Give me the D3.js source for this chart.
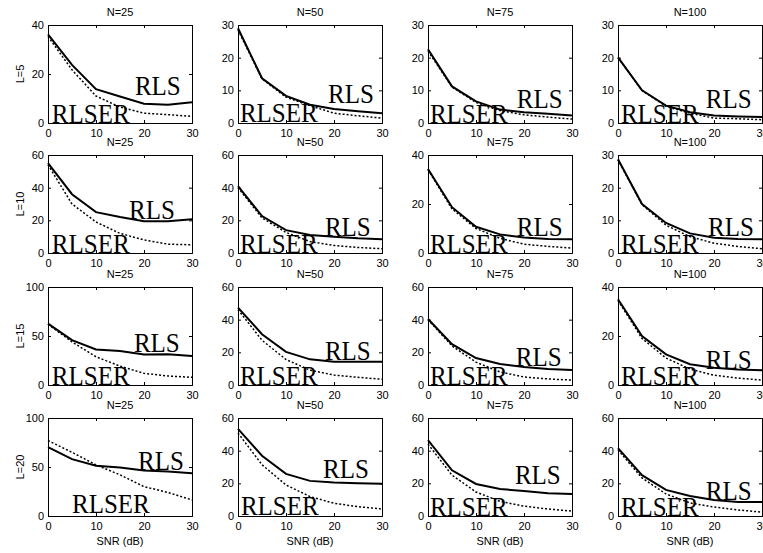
<!DOCTYPE html>
<html><head><meta charset="utf-8">
<script src="https://d3js.org/d3.v7.min.js"></script>
<style>body{margin:0;background:#fff}</style>
</head><body>
<svg id="c" width="763" height="553"></svg>
<script>
const snr = [0, 5, 10, 15, 20, 25, 30];
const Nvals = ["N=25", "N=50", "N=75", "N=100"];
const Lvals = ["L=5", "L=10", "L=15", "L=20"];

// RLS (solid) per row L, columns N=25,50,75,100
const rls_L5 = [
  [36.2, 23.7, 13.8, 10.8, 7.9, 7.5, 8.5],
  [29, 13.7, 8.3, 5.6, 4.3, 3.6, 3.0],
  [22.6, 11.2, 6.6, 4.1, 3.3, 2.8, 2.3],
  [20.1, 10, 5.3, 3.3, 2.3, 2.0, 1.8]
];
const rlser_L5 = [
  [35.3, 21.7, 11, 6.5, 4, 3.4, 2.7],
  [28.5, 13.5, 7.9, 5.3, 3, 2.2, 1.5],
  [22, 11, 6.3, 3.8, 2.5, 1.8, 1.2],
  [20, 10, 5.1, 3, 1.5, 1.3, 1.0]
];
const rls_L10 = [
  [55, 36, 25, 22, 19.4, 19.4, 20.6],
  [41, 22.6, 14, 11, 10, 9, 8.4],
  [34.3, 18.7, 10.7, 7.6, 6.3, 5.7, 5.6],
  [28.7, 15, 9.2, 6, 4.7, 4.3, 4.2]
];
const rlser_L10 = [
  [54, 30, 19, 12, 8, 5.4, 5],
  [40, 21.5, 12.6, 7, 4.6, 3.4, 2.6],
  [34, 18, 10, 6, 3.6, 2.7, 2],
  [28.5, 14.8, 8.5, 5, 3, 2, 1.3]
];
const rls_L15 = [
  [62.7, 45.8, 36.3, 34.6, 31.2, 31.5, 29.5],
  [47.4, 31.1, 20.3, 15.7, 14.2, 14.2, 14.2],
  [40.4, 25, 16.5, 12.9, 11, 9.8, 9.2],
  [35, 20, 12.5, 8.5, 7, 6.3, 6]
];
const rlser_L15 = [
  [62, 44, 28.8, 19.3, 11.9, 9.2, 7.8],
  [46.1, 27.4, 15.6, 9.1, 6.1, 4.7, 3.5],
  [40, 23.9, 14, 8, 4.9, 3.7, 3],
  [34.5, 19, 11, 6.5, 4, 2.8, 2]
];
const rls_L20 = [
  [70.3, 58, 51.2, 49.5, 46.4, 45.4, 43.7],
  [53.3, 36.9, 25.8, 21.5, 20.5, 20, 19.7],
  [46.5, 28, 19.6, 16.5, 15.3, 14, 13.5],
  [41.6, 25, 16, 12.2, 9.8, 8.6, 8.6]
];
const rlser_L20 = [
  [77, 65, 52.2, 42, 30, 24, 16.4],
  [50.8, 31.4, 19, 11.9, 7.8, 5.7, 4.3],
  [44, 25, 14.7, 9, 6, 4.3, 3],
  [40.4, 23.3, 13.5, 8, 5.5, 3.7, 2.4]
];
const rlsRows = [rls_L5, rls_L10, rls_L15, rls_L20];
const rlserRows = [rlser_L5, rlser_L10, rlser_L15, rlser_L20];

const yMax = [[40, 30, 30, 30], [60, 60, 40, 30], [100, 60, 60, 40], [100, 60, 60, 60]];
const xTicks = [0, 10, 20, 30];
const yTickStep = {30: 10, 40: 20, 60: 20, 100: 50};

// annotation anchors (data coords): RLS label and RLSER label
const rlsLabel = [
  [[18.1, 11.4], [18.75, 6.1], [18.5, 4.6], [18.3, 4.6]],
  [[16.9, 20.6], [18.1, 10.2], [18.5, 6.8], [18.75, 5.1]],
  [[17.9, 33.7], [18.1, 15.3], [18.3, 11.6], [18.3, 6.5]],
  [[18.75, 47], [17.7, 23.3], [18.1, 19.6], [18.3, 9.8]]
];
const rlserLabel = [
  [[0.8, 0], [0.4, 0.2], [0.4, 0], [0.6, 0]],
  [[0.8, 0], [0.4, 0], [0.4, 0], [0.6, 0]],
  [[0.8, 0], [0.4, 0], [0.4, 0], [0.6, 0]],
  [[5, 3.4], [0.6, 0.6], [0.4, 0], [0.6, 0]]
];

const svg = d3.select("#c");
const lefts = [48, 238, 428, 618], tops = [25, 155, 287, 418];
const pw = 144, ph = 98;
const sans = "Liberation Sans, Arial, sans-serif";
const serif = "Liberation Serif, Times New Roman, serif";

for (let r = 0; r < 4; r++) {
  for (let c = 0; c < 4; c++) {
    const g = svg.append("g").attr("transform", `translate(${lefts[c]},${tops[r]})`);
    const x = d3.scaleLinear().domain([0, 30]).range([0, pw]);
    const ym = yMax[r][c];
    const y = d3.scaleLinear().domain([0, ym]).range([ph, 0]);
    const yt = d3.range(0, ym + 0.001, yTickStep[ym]);

    g.append("g").attr("transform", `translate(0,${ph})`)
      .call(d3.axisBottom(x).tickValues(xTicks).tickSize(-3).tickPadding(6).tickFormat(d3.format("d")));
    g.append("g")
      .call(d3.axisLeft(y).tickValues(yt).tickSize(-3).tickPadding(4).tickFormat(d3.format("d")));
    g.append("g").attr("transform", `translate(${pw},0)`)
      .call(d3.axisRight(y).tickValues(yt).tickSize(-3).tickFormat(""));
    g.append("g")
      .call(d3.axisTop(x).tickValues(xTicks).tickSize(-3).tickFormat(""));
    g.selectAll(".domain").attr("stroke", "#000").attr("stroke-width", 1);
    g.selectAll(".tick line").attr("stroke", "#000");
    g.selectAll(".tick text").attr("font-family", sans).attr("font-size", 11).attr("fill", "#000");

    const line = d3.line().x((d, i) => x(snr[i])).y(d => y(d));
    g.append("path").datum(rlserRows[r][c]).attr("d", line)
      .attr("fill", "none").attr("stroke", "#000").attr("stroke-width", 1.5)
      .attr("stroke-dasharray", "2,2");
    g.append("path").datum(rlsRows[r][c]).attr("d", line)
      .attr("fill", "none").attr("stroke", "#000").attr("stroke-width", 2);

    g.append("text").attr("x", pw / 2).attr("y", -9).attr("text-anchor", "middle")
      .attr("font-family", sans).attr("font-size", 11).text(Nvals[c]);

    const lp = rlsLabel[r][c], sp = rlserLabel[r][c];
    g.append("text").attr("transform", `translate(${x(lp[0])},${y(lp[1])}) scale(1,1.1)`)
      .attr("font-family", serif).attr("font-size", 25).text("RLS");
    g.append("text").attr("transform", `translate(${x(sp[0])},${y(sp[1])}) scale(1,1.1)`)
      .attr("font-family", serif).attr("font-size", 25).text("RLSER");

    if (c === 0) {
      g.append("text").attr("transform", `translate(-24,${ph / 2}) rotate(-90)`)
        .attr("text-anchor", "middle").attr("font-family", sans).attr("font-size", 11).text(Lvals[r]);
    }
    if (r === 3) {
      g.append("text").attr("x", pw / 2).attr("y", ph + 29).attr("text-anchor", "middle")
        .attr("font-family", sans).attr("font-size", 11).text("SNR (dB)");
    }
  }
}
</script>
</body></html>
